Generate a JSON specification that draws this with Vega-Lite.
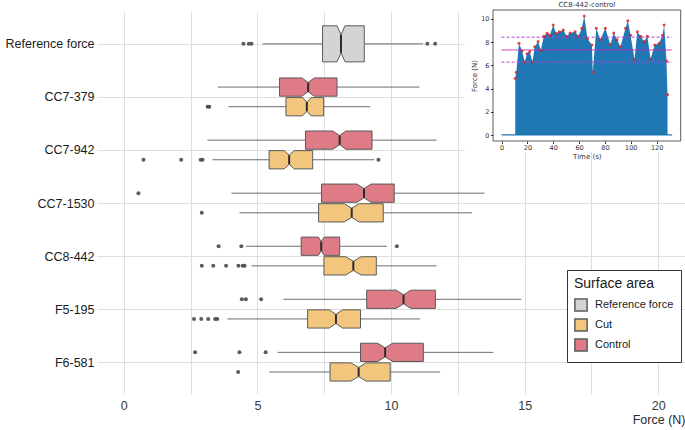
{
  "$schema": "https://vega.github.io/schema/vega-lite/v6.json",
  "width": 588,
  "height": 382,
  "autosize": {"type": "none"},
  "padding": {"left": 97, "top": 12, "right": 0, "bottom": 36},
  "background": "white",
  "config": {"view": {"stroke": null}, "font": "Liberation Sans"},
  "datasets": {
    "boxes": [
      {"cat": "Reference force", "grp": "Reference force", "lo": 5.2, "q1": 7.44, "nl": 7.98, "med": 8.13, "nu": 8.28, "q3": 9.0, "hi": 11.2},
      {"cat": "CC7-379", "grp": "Control", "lo": 3.52, "q1": 5.83, "nl": 6.67, "med": 6.9, "nu": 7.13, "q3": 7.98, "hi": 11.06},
      {"cat": "CC7-379", "grp": "Cut", "lo": 3.92, "q1": 6.07, "nl": 6.69, "med": 6.85, "nu": 7.01, "q3": 7.48, "hi": 9.22},
      {"cat": "CC7-942", "grp": "Control", "lo": 3.13, "q1": 6.8, "nl": 7.82, "med": 8.08, "nu": 8.31, "q3": 9.29, "hi": 11.7},
      {"cat": "CC7-942", "grp": "Cut", "lo": 3.32, "q1": 5.44, "nl": 6.0, "med": 6.19, "nu": 6.38, "q3": 7.07, "hi": 9.38},
      {"cat": "CC7-1530", "grp": "Control", "lo": 4.03, "q1": 7.4, "nl": 8.73, "med": 8.99, "nu": 9.25, "q3": 10.12, "hi": 13.5},
      {"cat": "CC7-1530", "grp": "Cut", "lo": 4.33, "q1": 7.29, "nl": 8.25, "med": 8.53, "nu": 8.81, "q3": 9.71, "hi": 13.03},
      {"cat": "CC8-442", "grp": "Control", "lo": 4.57, "q1": 6.64, "nl": 7.28, "med": 7.39, "nu": 7.5, "q3": 8.08, "hi": 9.85},
      {"cat": "CC8-442", "grp": "Cut", "lo": 4.78, "q1": 7.49, "nl": 8.31, "med": 8.59, "nu": 8.88, "q3": 9.45, "hi": 11.71},
      {"cat": "F5-195", "grp": "Control", "lo": 5.97, "q1": 9.09, "nl": 10.19, "med": 10.47, "nu": 10.75, "q3": 11.66, "hi": 14.87},
      {"cat": "F5-195", "grp": "Cut", "lo": 3.88, "q1": 6.88, "nl": 7.69, "med": 7.94, "nu": 8.19, "q3": 8.86, "hi": 11.09},
      {"cat": "F6-581", "grp": "Control", "lo": 5.76, "q1": 8.86, "nl": 9.5, "med": 9.78, "nu": 10.06, "q3": 11.21, "hi": 13.83},
      {"cat": "F6-581", "grp": "Cut", "lo": 5.44, "q1": 7.72, "nl": 8.5, "med": 8.79, "nu": 9.06, "q3": 9.97, "hi": 11.84}
    ],
    "outliers": [
      {"cat": "Reference force", "grp": "Reference force", "v": 4.48},
      {"cat": "Reference force", "grp": "Reference force", "v": 4.68},
      {"cat": "Reference force", "grp": "Reference force", "v": 4.78},
      {"cat": "Reference force", "grp": "Reference force", "v": 11.36},
      {"cat": "Reference force", "grp": "Reference force", "v": 11.65},
      {"cat": "CC7-379", "grp": "Cut", "v": 3.14},
      {"cat": "CC7-379", "grp": "Cut", "v": 3.2},
      {"cat": "CC7-942", "grp": "Cut", "v": 0.74},
      {"cat": "CC7-942", "grp": "Cut", "v": 2.15},
      {"cat": "CC7-942", "grp": "Cut", "v": 2.88},
      {"cat": "CC7-942", "grp": "Cut", "v": 2.95},
      {"cat": "CC7-942", "grp": "Cut", "v": 9.53},
      {"cat": "CC7-1530", "grp": "Control", "v": 0.55},
      {"cat": "CC7-1530", "grp": "Cut", "v": 2.92},
      {"cat": "CC8-442", "grp": "Control", "v": 3.55},
      {"cat": "CC8-442", "grp": "Control", "v": 4.4},
      {"cat": "CC8-442", "grp": "Control", "v": 10.22},
      {"cat": "CC8-442", "grp": "Cut", "v": 2.92},
      {"cat": "CC8-442", "grp": "Cut", "v": 3.35},
      {"cat": "CC8-442", "grp": "Cut", "v": 3.83},
      {"cat": "CC8-442", "grp": "Cut", "v": 4.29},
      {"cat": "CC8-442", "grp": "Cut", "v": 4.45},
      {"cat": "CC8-442", "grp": "Cut", "v": 4.52},
      {"cat": "F5-195", "grp": "Control", "v": 4.42},
      {"cat": "F5-195", "grp": "Control", "v": 4.57},
      {"cat": "F5-195", "grp": "Control", "v": 5.14},
      {"cat": "F5-195", "grp": "Cut", "v": 2.63},
      {"cat": "F5-195", "grp": "Cut", "v": 2.9},
      {"cat": "F5-195", "grp": "Cut", "v": 3.16},
      {"cat": "F5-195", "grp": "Cut", "v": 3.42},
      {"cat": "F5-195", "grp": "Cut", "v": 3.5},
      {"cat": "F6-581", "grp": "Control", "v": 2.67},
      {"cat": "F6-581", "grp": "Control", "v": 4.33},
      {"cat": "F6-581", "grp": "Control", "v": 5.31},
      {"cat": "F6-581", "grp": "Cut", "v": 4.28}
    ],
    "peaks": [
      {"t": 10.6, "f": 4.9}, {"t": 11.4, "f": 5.4}, {"t": 13.5, "f": 7.9}, {"t": 15.9, "f": 7.25},
      {"t": 18.0, "f": 6.3}, {"t": 19.7, "f": 7.0}, {"t": 21.8, "f": 7.2}, {"t": 23.9, "f": 6.3},
      {"t": 25.7, "f": 7.6}, {"t": 28.3, "f": 8.05}, {"t": 30.4, "f": 7.3}, {"t": 32.7, "f": 8.5},
      {"t": 35.3, "f": 8.77}, {"t": 37.4, "f": 8.6}, {"t": 40.0, "f": 9.48}, {"t": 42.1, "f": 8.77},
      {"t": 44.7, "f": 8.9}, {"t": 47.8, "f": 9.05}, {"t": 50.4, "f": 8.5}, {"t": 53.0, "f": 8.8},
      {"t": 56.9, "f": 8.9}, {"t": 59.5, "f": 8.5}, {"t": 62.1, "f": 9.2}, {"t": 64.0, "f": 10.26},
      {"t": 66.5, "f": 8.3}, {"t": 69.9, "f": 7.76}, {"t": 70.6, "f": 5.4}, {"t": 73.3, "f": 9.2},
      {"t": 76.4, "f": 8.2}, {"t": 80.3, "f": 9.2}, {"t": 84.2, "f": 7.8}, {"t": 86.8, "f": 8.8},
      {"t": 89.4, "f": 8.2}, {"t": 92.0, "f": 7.6}, {"t": 95.9, "f": 9.2}, {"t": 97.7, "f": 9.85},
      {"t": 99.8, "f": 8.6}, {"t": 102.9, "f": 6.5}, {"t": 105.0, "f": 8.9}, {"t": 107.6, "f": 8.5},
      {"t": 110.2, "f": 8.05}, {"t": 112.8, "f": 8.5}, {"t": 115.3, "f": 6.55}, {"t": 118.5, "f": 7.76},
      {"t": 121.9, "f": 7.9}, {"t": 124.5, "f": 8.6}, {"t": 125.8, "f": 9.48}, {"t": 127.6, "f": 6.4},
      {"t": 128.4, "f": 3.5}
    ],
    "levels": [
      {"line": "mean", "f": 7.33},
      {"line": "upper", "f": 8.43},
      {"line": "lower", "f": 6.28}
    ]
  },
  "layer": [
    {
      "data": {"name": "boxes"},
      "transform": [
        {"calculate": "indexof(['Reference force','CC7-379','CC7-942','CC7-1530','CC8-442','F5-195','F6-581'], datum.cat)", "as": "idx"},
        {"calculate": "datum.idx + (datum.grp === 'Control' ? -0.185 : datum.grp === 'Cut' ? 0.185 : 0)", "as": "c"}
      ],
      "mark": {"type": "rule", "color": "#6e6e6e", "strokeWidth": 1},
      "encoding": {
        "x": {"field": "lo", "type": "quantitative", "scale": {"domain": [-1, 21], "nice": false, "zero": false},
          "axis": {"orient": "bottom", "title": "Force (N)", "values": [0, 2.5, 5, 7.5, 10, 12.5, 15, 17.5, 20], "format": "d", "labelExpr": "datum.value % 5 === 0 ? datum.label : ''", "labelOverlap": false, "grid": true, "gridColor": "#dedede", "gridWidth": 1, "ticks": false, "domain": false, "labelFontSize": 12.5, "labelColor": "#3a3a3a", "labelPadding": 5, "titleFontSize": 12.5, "titleFontWeight": "normal", "titleColor": "#2a2a2a", "titleAnchor": "end", "titlePadding": 2}},
        "x2": {"field": "q1"},
        "y": {"field": "c", "type": "quantitative", "scale": {"domain": [-0.6, 6.6], "nice": false, "zero": false, "reverse": true},
          "axis": {"orient": "left", "title": null, "values": [0, 1, 2, 3, 4, 5, 6], "labelExpr": "datum.value == 0 ? 'Reference force' : datum.value == 1 ? 'CC7-379' : datum.value == 2 ? 'CC7-942' : datum.value == 3 ? 'CC7-1530' : datum.value == 4 ? 'CC8-442' : datum.value == 5 ? 'F5-195' : 'F6-581'", "labelOverlap": false, "grid": true, "gridColor": "#dedede", "gridWidth": 1, "ticks": false, "domain": false, "labelFontSize": 12.5, "labelColor": "#1a1a1a", "labelPadding": 3, "labelLimit": 200}}
      }
    },
    {
      "data": {"name": "boxes"},
      "transform": [
        {"calculate": "indexof(['Reference force','CC7-379','CC7-942','CC7-1530','CC8-442','F5-195','F6-581'], datum.cat)", "as": "idx"},
        {"calculate": "datum.idx + (datum.grp === 'Control' ? -0.185 : datum.grp === 'Cut' ? 0.185 : 0)", "as": "c"}
      ],
      "mark": {"type": "rule", "color": "#6e6e6e", "strokeWidth": 1},
      "encoding": {
        "x": {"field": "q3", "type": "quantitative", "scale": {"domain": [-1, 21], "nice": false, "zero": false}, "axis": null},
        "x2": {"field": "hi"},
        "y": {"field": "c", "type": "quantitative", "scale": {"domain": [-0.6, 6.6], "nice": false, "zero": false, "reverse": true}, "axis": null}
      }
    },
    {
      "data": {"name": "boxes"},
      "transform": [
        {"calculate": "indexof(['Reference force','CC7-379','CC7-942','CC7-1530','CC8-442','F5-195','F6-581'], datum.cat)", "as": "idx"},
        {"calculate": "datum.idx + (datum.grp === 'Control' ? -0.185 : datum.grp === 'Cut' ? 0.185 : 0)", "as": "c"},
        {"calculate": "datum.grp === 'Reference force' ? 0.34 : 0.172", "as": "h"},
        {"fold": ["q1", "nl", "med", "nu", "q3"], "as": ["k", "xv"]},
        {"calculate": "datum.c - datum.h + (datum.k === 'med' ? datum.h / 2 : 0)", "as": "yt"},
        {"calculate": "datum.c + datum.h - (datum.k === 'med' ? datum.h / 2 : 0)", "as": "yb"}
      ],
      "mark": {"type": "area", "stroke": "#5a5a5a", "strokeWidth": 1, "interpolate": "linear"},
      "encoding": {
        "x": {"field": "xv", "type": "quantitative", "scale": {"domain": [-1, 21], "nice": false, "zero": false}, "axis": null},
        "y": {"field": "yt", "type": "quantitative", "scale": {"domain": [-0.6, 6.6], "nice": false, "zero": false, "reverse": true}, "axis": null},
        "y2": {"field": "yb"},
        "detail": {"field": "cat", "type": "nominal"},
        "fill": {"field": "grp", "type": "nominal",
          "scale": {"domain": ["Reference force", "Cut", "Control"], "range": ["#d4d4d4", "#f3c67d", "#df7b86"]},
          "legend": {"title": "Surface area", "orient": "none", "legendX": 470, "legendY": 258, "fillColor": "white", "strokeColor": "#333333", "padding": 7, "titleFontSize": 14, "titleFontWeight": "normal", "titleColor": "#1a1a1a", "titlePadding": 7, "labelFontSize": 11, "labelColor": "#1a1a1a", "symbolType": "square", "symbolSize": 150, "symbolStrokeColor": "#5c5c5c", "rowPadding": 0, "labelOffset": 7}}
      }
    },
    {
      "data": {"name": "boxes"},
      "transform": [
        {"calculate": "indexof(['Reference force','CC7-379','CC7-942','CC7-1530','CC8-442','F5-195','F6-581'], datum.cat)", "as": "idx"},
        {"calculate": "datum.idx + (datum.grp === 'Control' ? -0.185 : datum.grp === 'Cut' ? 0.185 : 0)", "as": "c"},
        {"calculate": "datum.grp === 'Reference force' ? 0.34 : 0.172", "as": "h"},
        {"calculate": "datum.c - datum.h / 2", "as": "mt"},
        {"calculate": "datum.c + datum.h / 2", "as": "mb"}
      ],
      "mark": {"type": "rule", "color": "#2b2b2b", "strokeWidth": 2},
      "encoding": {
        "x": {"field": "med", "type": "quantitative", "scale": {"domain": [-1, 21], "nice": false, "zero": false}, "axis": null},
        "y": {"field": "mt", "type": "quantitative", "scale": {"domain": [-0.6, 6.6], "nice": false, "zero": false, "reverse": true}, "axis": null},
        "y2": {"field": "mb"}
      }
    },
    {
      "data": {"name": "outliers"},
      "transform": [
        {"calculate": "indexof(['Reference force','CC7-379','CC7-942','CC7-1530','CC8-442','F5-195','F6-581'], datum.cat)", "as": "idx"},
        {"calculate": "datum.idx + (datum.grp === 'Control' ? -0.185 : datum.grp === 'Cut' ? 0.185 : 0)", "as": "c"}
      ],
      "mark": {"type": "point", "filled": true, "color": "#4a4a4a", "size": 16, "opacity": 0.9},
      "encoding": {
        "x": {"field": "v", "type": "quantitative", "scale": {"domain": [-1, 21], "nice": false, "zero": false}, "axis": null},
        "y": {"field": "c", "type": "quantitative", "scale": {"domain": [-0.6, 6.6], "nice": false, "zero": false, "reverse": true}, "axis": null}
      }
    },
    {
      "data": {"values": [{}]},
      "mark": {"type": "rect", "color": "white"},
      "encoding": {
        "x": {"datum": -28.3, "type": "quantitative", "scale": {"domain": [-6.6, 138.6], "range": [396, 583.7], "nice": false, "zero": false}, "axis": null},
        "x2": {"datum": 142},
        "y": {"datum": -1.46, "type": "quantitative", "scale": {"domain": [-0.51, 10.77], "range": [129, -2], "nice": false, "zero": false}, "axis": null},
        "y2": {"datum": 11.63}
      }
    },
    {
      "data": {"name": "peaks"},
      "mark": {"type": "area", "color": "#1f77b4"},
      "encoding": {
        "x": {"field": "t", "type": "quantitative", "scale": {"domain": [-6.6, 138.6], "range": [396, 583.7], "nice": false, "zero": false},
          "axis": {"orient": "bottom", "offset": -253, "zindex": 1, "values": [0, 20, 40, 60, 80, 100, 120], "title": "Time (s)", "grid": false, "domain": false, "tickSize": 2.5, "tickColor": "#333333", "labelFont": "DejaVu Sans", "labelFontSize": 6.5, "labelColor": "#333333", "labelPadding": 1, "titleFont": "DejaVu Sans", "titleFontSize": 7, "titleFontWeight": "normal", "titleColor": "#333333", "titlePadding": 1, "labelFlush": false}},
        "y": {"field": "f", "type": "quantitative", "scale": {"domain": [-0.51, 10.77], "range": [129, -2], "nice": false, "zero": false},
          "axis": {"orient": "left", "offset": -396, "zindex": 1, "values": [0, 2, 4, 6, 8, 10], "title": "Force (N)", "grid": false, "domain": false, "tickSize": 2.5, "tickColor": "#333333", "labelFont": "DejaVu Sans", "labelFontSize": 6.5, "labelColor": "#333333", "labelPadding": 1.5, "titleFont": "DejaVu Sans", "titleFontSize": 7, "titleFontWeight": "normal", "titleColor": "#333333", "titlePadding": 3}},
        "y2": {"datum": 0}
      }
    },
    {
      "data": {"values": [{}]},
      "mark": {"type": "rule", "color": "#1f77b4", "strokeWidth": 1.2},
      "encoding": {
        "x": {"datum": 0, "type": "quantitative", "scale": {"domain": [-6.6, 138.6], "range": [396, 583.7], "nice": false, "zero": false}, "axis": null},
        "x2": {"datum": 132},
        "y": {"datum": 0.02, "type": "quantitative", "scale": {"domain": [-0.51, 10.77], "range": [129, -2], "nice": false, "zero": false}, "axis": null}
      }
    },
    {
      "data": {"name": "levels"},
      "mark": {"type": "rule", "strokeWidth": 1},
      "encoding": {
        "x": {"datum": 0, "type": "quantitative", "scale": {"domain": [-6.6, 138.6], "range": [396, 583.7], "nice": false, "zero": false}, "axis": null},
        "x2": {"datum": 132},
        "y": {"field": "f", "type": "quantitative", "scale": {"domain": [-0.51, 10.77], "range": [129, -2], "nice": false, "zero": false}, "axis": null},
        "color": {"field": "line", "type": "nominal", "scale": {"domain": ["mean", "upper", "lower"], "range": ["#c026c0", "#b040d8", "#b040d8"]}, "legend": null},
        "strokeDash": {"field": "line", "type": "nominal", "scale": {"domain": ["mean", "upper", "lower"], "range": [[1, 0], [3, 2], [3, 2]]}, "legend": null}
      }
    },
    {
      "data": {"name": "peaks"},
      "mark": {"type": "point", "filled": true, "color": "#d62728", "size": 9, "opacity": 0.85},
      "encoding": {
        "x": {"field": "t", "type": "quantitative", "scale": {"domain": [-6.6, 138.6], "range": [396, 583.7], "nice": false, "zero": false}, "axis": null},
        "y": {"field": "f", "type": "quantitative", "scale": {"domain": [-0.51, 10.77], "range": [129, -2], "nice": false, "zero": false}, "axis": null}
      }
    },
    {
      "data": {"values": [{}]},
      "mark": {"type": "rect", "filled": false, "color": "#333333", "strokeWidth": 0.8},
      "encoding": {
        "x": {"datum": -6.6, "type": "quantitative", "scale": {"domain": [-6.6, 138.6], "range": [396, 583.7], "nice": false, "zero": false}, "axis": null},
        "x2": {"datum": 138.6},
        "y": {"datum": -0.51, "type": "quantitative", "scale": {"domain": [-0.51, 10.77], "range": [129, -2], "nice": false, "zero": false}, "axis": null},
        "y2": {"datum": 10.77}
      }
    },
    {
      "data": {"values": [{}]},
      "mark": {"type": "text", "text": "CC8-442-control", "font": "DejaVu Sans", "fontSize": 7, "color": "#333333", "align": "center", "baseline": "middle"},
      "encoding": {
        "x": {"datum": 66, "type": "quantitative", "scale": {"domain": [-6.6, 138.6], "range": [396, 583.7], "nice": false, "zero": false}, "axis": null},
        "y": {"datum": 11.2, "type": "quantitative", "scale": {"domain": [-0.51, 10.77], "range": [129, -2], "nice": false, "zero": false}, "axis": null}
      }
    }
  ],
  "resolve": {"scale": {"x": "independent", "y": "independent"}}
}
